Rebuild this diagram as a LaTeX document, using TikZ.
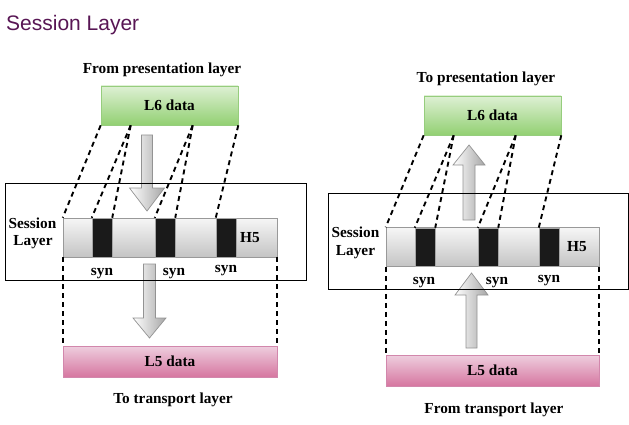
\documentclass[tikz,border=0pt]{standalone}
\usepackage{fontspec}
\setmainfont{Liberation Serif}
\newfontfamily\titlefont{Liberation Sans}
\definecolor{titlecol}{RGB}{88,22,84}
\definecolor{gtop}{RGB}{222,240,212}
\definecolor{gbot}{RGB}{146,208,114}
\definecolor{gdraw}{RGB}{150,205,125}
\definecolor{ptop}{RGB}{238,206,222}
\definecolor{pbot}{RGB}{214,118,160}
\definecolor{pdraw}{RGB}{210,135,172}
\definecolor{btop}{RGB}{246,246,246}
\definecolor{bbot}{RGB}{196,196,196}
\definecolor{syncol}{RGB}{26,26,26}
\tikzset{
  lbl/.style={font=\bfseries\fontsize{15.3}{17}\selectfont, inner sep=0pt},
  dline/.style={line width=1.9pt, dash pattern=on 5pt off 4pt},
  greenbox/.style={draw=gdraw, top color=gtop, bottom color=gbot, line width=0.6pt, minimum width=137pt, minimum height=39pt, inner sep=0pt, lbl},
  pinkbox/.style={draw=pdraw, top color=ptop, bottom color=pbot, line width=0.6pt, minimum height=31pt, inner sep=0pt, lbl},
  barbox/.style={draw=gray!80, top color=btop, bottom color=bbot, line width=0.6pt, minimum height=39pt, inner sep=0pt},
  synbox/.style={draw=gray!70, fill=syncol, line width=0.5pt, minimum width=20pt, minimum height=39pt, inner sep=0pt},
  outerbox/.style={draw=black, line width=0.9pt},
  fatarr/.style={left color=white, right color=gray!70, draw=gray!85, line width=0.7pt}
}
% #1 centre x, #2 tail y, #3 head base y, #4 tip y, #5 half shaft, #6 half head
\newcommand\fatarrow[6]{%
  \shade[fatarr] (#1-#5,#2) -- (#1+#5,#2) -- (#1+#5,#3) -- (#1+#6,#3) -- (#1,#4) -- (#1-#6,#3) -- (#1-#5,#3) -- cycle;}
\begin{document}
\begin{tikzpicture}[x=1pt,y=-1pt]
\useasboundingbox (0,0) rectangle (629,425);

\node[anchor=base west, inner sep=0pt, text=titlecol, font=\titlefont\fontsize{21}{25}\selectfont] (title) at (6,31) {Session Layer};

% ---------------- left diagram ----------------
\fatarrow{147}{135}{188}{211}{5.5}{17.5}
\fatarrow{149.5}{264}{318}{338}{6}{16.5}
\draw[outerbox] (5,183) rectangle (306,280);

\node[lbl, anchor=base] (fromP) at (162,74) {From presentation layer};
\node[greenbox] (L6a) at (169.5,105.5) {L6 data};
\node[barbox, minimum width=214pt] (bara) at (170,237.5) {};
\node[synbox] (sa1) at (102,237.5) {};
\node[synbox] (sa2) at (165,237.5) {};
\node[synbox] (sa3) at (226,237.5) {};
\node[lbl, anchor=base] (h5a) at (250,242) {H5};
\node[lbl, anchor=base] (sesa1) at (32.5,228) {Session};
\node[lbl, anchor=base] (sesa2) at (33,245) {Layer};
\node[lbl, anchor=base] (syna1) at (102,275) {syn};
\node[lbl, anchor=base] (syna2) at (174,275) {syn};
\node[lbl, anchor=base] (syna3) at (226,272) {syn};
\node[pinkbox, minimum width=214pt] (L5a) at (170,361.5) {L5 data};
\node[lbl, anchor=base] (toT) at (173,403) {To transport layer};

\draw[dline] (L6a.south west) -- (bara.north west);
\draw[dline] ([xshift=30pt]L6a.south west) -- (sa1.north west);
\draw[dline] ([xshift=30pt]L6a.south west) -- (sa1.north east);
\draw[dline] ([xshift=92pt]L6a.south west) -- (sa2.north west);
\draw[dline] ([xshift=92pt]L6a.south west) -- (sa2.north east);
\draw[dline] (L6a.south east) -- (sa3.north west);
\draw[dline] (bara.south west) -- (L5a.north west);
\draw[dline] (bara.south east) -- (L5a.north east);

% ---------------- right diagram ----------------
\fatarrow{469}{220}{165}{145}{6}{16}
\fatarrow{471.5}{348}{295}{273}{5.5}{16.5}
\draw[outerbox] (328,193) rectangle (628,289);

\node[lbl, anchor=base] (toP) at (486,83) {To presentation layer};
\node[greenbox] (L6b) at (492.5,115.5) {L6 data};
\node[barbox, minimum width=213pt] (barb) at (492.5,247) {};
\node[synbox, minimum height=38pt] (sb1) at (425,247) {};
\node[synbox, minimum height=38pt] (sb2) at (488,247) {};
\node[synbox, minimum height=38pt] (sb3) at (549,247) {};
\node[lbl, anchor=base] (h5b) at (577,251) {H5};
\node[lbl, anchor=base] (sesb1) at (355.5,237) {Session};
\node[lbl, anchor=base] (sesb2) at (355.5,255) {Layer};
\node[lbl, anchor=base] (synb1) at (424,284) {syn};
\node[lbl, anchor=base] (synb2) at (497,284) {syn};
\node[lbl, anchor=base] (synb3) at (549,282) {syn};
\node[pinkbox, minimum width=213pt] (L5b) at (492.5,370.5) {L5 data};
\node[lbl, anchor=base] (fromT) at (494,413) {From transport layer};

\draw[dline] (L6b.south west) -- (barb.north west);
\draw[dline] ([xshift=30pt]L6b.south west) -- (sb1.north west);
\draw[dline] ([xshift=30pt]L6b.south west) -- (sb1.north east);
\draw[dline] ([xshift=92pt]L6b.south west) -- (sb2.north west);
\draw[dline] ([xshift=92pt]L6b.south west) -- (sb2.north east);
\draw[dline] (L6b.south east) -- (sb3.north west);
\draw[dline] (barb.south west) -- (L5b.north west);
\draw[dline] (barb.south east) -- (L5b.north east);
\end{tikzpicture}
\end{document}
